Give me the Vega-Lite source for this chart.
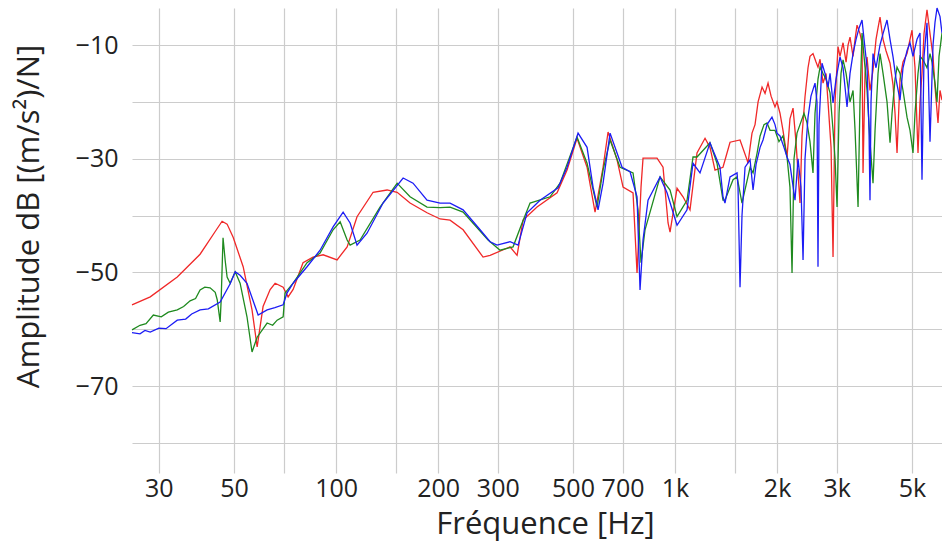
{
  "$schema": "https://vega.github.io/schema/vega-lite/v6.json",
  "autosize": "none",
  "width": 810,
  "height": 465,
  "padding": {"left": 132, "top": 8, "right": 0, "bottom": 71},
  "background": "white",
  "config": {"view": {"stroke": null}},
  "datasets": {
    "red": [
      [25.0,-55.7],[28.3,-54.3],[34.0,-50.8],[39.7,-46.8],[44.0,-42.8],[46.1,-41.0],[47.7,-41.5],[49.7,-43.8],[53.2,-49.0],[56.5,-56.6],[58.5,-63.1],[60.9,-56.0],[63.9,-53.0],[66.1,-51.9],[69.8,-52.6],[72.2,-54.3],[74.7,-53.0],[79.9,-48.3],[85.5,-47.3],[91.6,-46.9],[100.7,-47.8],[107.8,-45.5],[115.3,-40.2],[128.6,-35.9],[141.4,-35.5],[151.4,-35.9],[165.3,-37.8],[185.5,-39.5],[202.7,-40.6],[216.9,-40.8],[237,-42.5],[271.4,-47.3],[284.7,-47.0],[326,-45.5],[342,-47.0],[356.2,-40.8],[391.6,-38.5],[448.7,-36.0],[480.2,-32.0],[513.9,-26.4],[550.1,-31.5],[580.8,-39.4],[613.3,-31.5],[634.5,-25.3],[674.4,-30.2],[702.5,-35.0],[751.8,-36.0],[772.5,-50.1],[793.7,-35.0],[804.6,-29.9],[884.9,-29.9],[921.7,-31.5],[953.7,-41.3],[966.7,-42.9],[1013.7,-35.2],[1055.8,-36.7],[1107,-39.0],[1161,-29.0],[1226,-26.4],[1268,-28.0],[1312,-32.0],[1385,-31.5],[1453,-27.1],[1555,-26.7],[1631,-30.2],[1642,-30.8],
      [1665,-28.0],[1687,-25.5],[1722,-24.0],[1758,-20.0],[1806,-17.4],[1843,-18.5],[1881,-16.7],[1920,-19.0],[1972,-20.9],[1999,-20.0],[2040,-22.0],[2082,-25.0],[2140,-29.7],[2183,-23.0],[2229,-21.1],[2274,-27.0],[2337,-37.8],[2369,-26.0],[2418,-19.1],[2468,-14.0],[2501,-12.0],[2553,-11.5],[2606,-13.0],[2641,-13.9],[2678,-12.5],[2733,-16.7],[2789,-15.0],[2827,-20.0],[2886,-28.0],[2925,-47.3],[2965,-20.0],[3026,-10.3],[3067,-12.0],[3131,-9.6],[3196,-13.0],[3239,-10.0],[3283,-8.6],[3351,-12.0],[3397,-9.0],[3443,-6.5],[3513,-8.0],[3562,-9.6],[3586,-32.5],[3635,-15.0],[3685,-12.1],[3760,-18.0],[3838,-14.4],[3917,-9.0],[3971,-7.0],[4025,-5.1],[4108,-9.0],[4192,-11.0],[4308,-13.2],[4397,-17.0],[4457,-22.0],[4518,-29.0],[4610,-16.0],[4705,-13.0],[4835,-11.5],[4934,-9.0],[5002,-7.4],[5105,-14.0],[5210,-29.0],[5281,-20.0],[5353,-15.0],[5427,-8.0],[5538,-3.8],[5652,-8.0],[5769,-12.0],[5848,-17.4],[5968,-23.7],[6050,-18.0],[6132,-19.7]
    ],
    "green": [
      [25.0,-60.1],[26.4,-59.3],[27.5,-59.0],[28.9,-57.5],[30.5,-57.8],[32.0,-57.0],[34.0,-56.6],[35.5,-56.0],[37.1,-55.0],[38.5,-54.6],[39.7,-53.1],[41.0,-52.6],[42.5,-52.7],[44.0,-53.5],[44.6,-54.8],[45.5,-58.7],[45.8,-55.0],[46.4,-43.9],[47.1,-48.0],[47.7,-50.8],[48.7,-51.9],[50.4,-49.9],[52.1,-51.9],[54.6,-57.8],[56.5,-64.0],[58.5,-61.4],[62.6,-58.9],[65.0,-59.3],[67.0,-58.4],[69.8,-57.8],[70.7,-53.6],[74.7,-51.9],[82.1,-48.3],[89.7,-46.6],[98.0,-42.5],[102.8,-41.1],[107.8,-44.3],[110,-45.2],[117.7,-44.3],[134.8,-38.5],[151.4,-34.3],[165.3,-36.7],[185.5,-38.5],[202.7,-38.6],[216.9,-38.5],[237,-39.4],[280.8,-44.3],[304.7,-46.1],[332.8,-45.5],[353.8,-41.3],[373.5,-37.8],[427.9,-36.7],[457.9,-34.3],[513.9,-26.2],[550.1,-30.8],[588.8,-38.5],[613.3,-32.0],[643.2,-26.7],[688.3,-31.5],[751.8,-32.5],[777.8,-39.0],[793.7,-48.3],[815.6,-42.5],[903.2,-33.2],[966.7,-35.5],[1013.7,-40.2],[1084.9,-37.3],[1130,-29.7],[1161,-29.7],[1268,-27.2],[1330,-30.8],[1385,-37.3],[1404,-37.3],[1483,-33.7],[1524,-33.2],[1576,-37.8],
      [1665,-31.5],[1699,-32.5],[1746,-29.0],[1782,-26.0],[1830,-24.0],[1868,-23.7],[1907,-25.0],[1972,-25.0],[2026,-27.0],[2082,-26.0],[2140,-29.7],[2183,-35.0],[2214,-50.1],[2244,-30.0],[2290,-25.5],[2337,-24.0],[2402,-22.0],[2451,-23.7],[2501,-27.0],[2553,-32.5],[2588,-22.0],[2641,-16.0],[2678,-13.9],[2733,-15.0],[2789,-16.0],[2866,-18.4],[2925,-25.0],[2965,-30.0],[3006,-38.5],[3047,-22.0],[3088,-15.0],[3131,-12.6],[3196,-15.0],[3283,-20.0],[3351,-18.0],[3397,-25.0],[3467,-38.5],[3513,-20.0],[3562,-7.9],[3611,-12.0],[3685,-18.0],[3760,-27.0],[3838,-34.3],[3891,-25.0],[3971,-15.0],[4025,-11.5],[4108,-15.0],[4221,-20.0],[4308,-27.2],[4367,-22.0],[4457,-16.0],[4518,-13.9],[4610,-15.0],[4705,-18.0],[4835,-22.7],[4934,-25.0],[5036,-29.0],[5105,-22.0],[5210,-15.0],[5281,-12.0],[5390,-12.6],[5538,-14.0],[5652,-11.5],[5729,-13.0],[5848,-16.7],[5928,-20.0],[6009,-12.0],[6132,-7.9]
    ],
    "blue": [
      [25.0,-60.6],[26.4,-60.8],[27.3,-60.2],[28.3,-60.5],[30.0,-59.8],[31.5,-59.9],[34.0,-58.4],[36.0,-58.2],[37.5,-57.3],[39.7,-56.6],[42.0,-56.4],[45.5,-55.2],[48.7,-52.0],[50.4,-49.9],[52.1,-50.5],[54.6,-51.9],[58.9,-57.5],[62.6,-56.6],[66.0,-56.2],[69.8,-55.7],[71.7,-53.6],[74.7,-51.9],[82.1,-49.0],[89.7,-46.1],[98.0,-42.0],[104.9,-39.4],[110,-41.3],[115.3,-45.2],[123.4,-43.1],[137.6,-37.8],[157.7,-33.4],[168.7,-34.3],[185.5,-37.3],[202.7,-37.8],[216.9,-37.8],[237,-39.0],[266,-42.5],[284.7,-44.6],[298.5,-45.2],[326,-44.6],[344.3,-45.2],[366,-39.5],[399.7,-37.3],[451.7,-35.1],[480.2,-31.5],[517.5,-25.5],[550.1,-28.0],[573,-35.0],[592.8,-39.0],[613.3,-34.3],[643.2,-25.5],[674.4,-29.0],[697.8,-31.5],[736.7,-32.3],[772.5,-36.7],[788.4,-53.1],[804.6,-44.3],[832.4,-37.3],[903.2,-33.2],[947.1,-36.0],[1013.7,-41.7],[1084.9,-39.0],[1130,-30.8],[1185,-32.5],[1268,-27.2],[1294,-28.5],[1357,-31.5],[1385,-36.7],[1404,-37.8],[1453,-33.2],[1524,-32.5],[1534,-35.0],[1555,-52.6],[1576,-40.0],[1609,-31.5],
      [1665,-30.2],[1699,-35.5],[1734,-31.0],[1782,-28.0],[1818,-26.7],[1868,-24.0],[1932,-22.7],[1972,-24.0],[1999,-25.5],[2040,-26.0],[2096,-28.0],[2140,-29.7],[2183,-31.0],[2259,-37.3],[2306,-30.0],[2353,-35.0],[2386,-47.8],[2418,-30.0],[2468,-22.7],[2518,-19.0],[2588,-16.7],[2623,-20.0],[2641,-49.0],[2659,-24.0],[2714,-13.2],[2770,-15.0],[2827,-17.4],[2866,-15.0],[2925,-20.2],[2985,-16.0],[3067,-12.1],[3131,-14.0],[3217,-20.9],[3283,-15.0],[3351,-11.5],[3420,-9.0],[3491,-7.0],[3562,-5.6],[3611,-9.0],[3685,-13.9],[3735,-25.0],[3760,-37.3],[3786,-20.0],[3838,-11.5],[3917,-14.0],[4025,-10.0],[4108,-8.0],[4221,-5.6],[4308,-9.0],[4397,-12.1],[4487,-16.0],[4610,-19.7],[4705,-14.0],[4835,-11.0],[4934,-9.6],[5036,-12.0],[5175,-9.0],[5281,-7.9],[5353,-33.7],[5427,-12.0],[5538,-6.1],[5652,-27.0],[5769,-10.0],[5848,-6.0],[5928,-3.5],[6050,-5.0],[6132,-7.9]
    ]
  },
  "layer": [
    {
      "data": {"name": "red"},
      "transform": [{"calculate": "datum[0]", "as": "f"}, {"calculate": "datum[1]", "as": "db"}],
      "mark": {"type": "line", "color": "#f02828", "strokeWidth": 1.3, "clip": false},
      "encoding": {
        "x": {"field": "f", "type": "quantitative",
          "scale": {"type": "log", "domain": [25, 6132], "nice": false},
          "axis": {"values": [30, 50, 70, 100, 150, 200, 300, 500, 700, 1000, 1500, 2000, 3000, 5000],
            "labelExpr": "datum.value==70||datum.value==150||datum.value==1500 ? '' : (datum.value>=1000 ? (datum.value/1000)+'k' : datum.value+'')",
            "grid": true, "gridColor": "#cccccc", "gridWidth": 1.2, "domain": false, "ticks": false, "tickSize": 0,
            "labelFont": "Open Sans", "labelFontSize": 25, "labelColor": "#222222", "labelPadding": 3,
            "labelOverlap": false, "labelFlush": false,
            "title": "Fréquence [Hz]", "titleFont": "Open Sans", "titleFontSize": 31, "titleFontWeight": "normal",
            "titleColor": "#222222", "titleX": 413, "titleY": 60, "titleAlign": "center", "titleBaseline": "alphabetic"}},
        "y": {"field": "db", "type": "quantitative",
          "scale": {"domain": [-85.28, -3.49], "nice": false, "zero": false},
          "axis": {"values": [-80, -70, -60, -50, -40, -30, -20, -10],
            "labelExpr": "datum.value % 20 == 0 ? '' : datum.label",
            "grid": true, "gridColor": "#cccccc", "gridWidth": 1.2, "domain": false, "ticks": false, "tickSize": 0,
            "labelFont": "Open Sans", "labelFontSize": 25, "labelColor": "#222222", "labelPadding": 14,
            "title": "Amplitude dB [(m/s²)/N]", "titleFont": "Open Sans", "titleFontSize": 31, "titleFontWeight": "normal",
            "titleColor": "#222222", "titleX": -94, "titleY": 208, "titleAngle": -90, "titleAlign": "center", "titleBaseline": "alphabetic"}}
      }
    },
    {
      "data": {"name": "green"},
      "transform": [{"calculate": "datum[0]", "as": "f"}, {"calculate": "datum[1]", "as": "db"}],
      "mark": {"type": "line", "color": "#1f8a1f", "strokeWidth": 1.3, "clip": false},
      "encoding": {
        "x": {"field": "f", "type": "quantitative"},
        "y": {"field": "db", "type": "quantitative"}
      }
    },
    {
      "data": {"name": "blue"},
      "transform": [{"calculate": "datum[0]", "as": "f"}, {"calculate": "datum[1]", "as": "db"}],
      "mark": {"type": "line", "color": "#1c1cf5", "strokeWidth": 1.3, "clip": false},
      "encoding": {
        "x": {"field": "f", "type": "quantitative"},
        "y": {"field": "db", "type": "quantitative"}
      }
    }
  ]
}
